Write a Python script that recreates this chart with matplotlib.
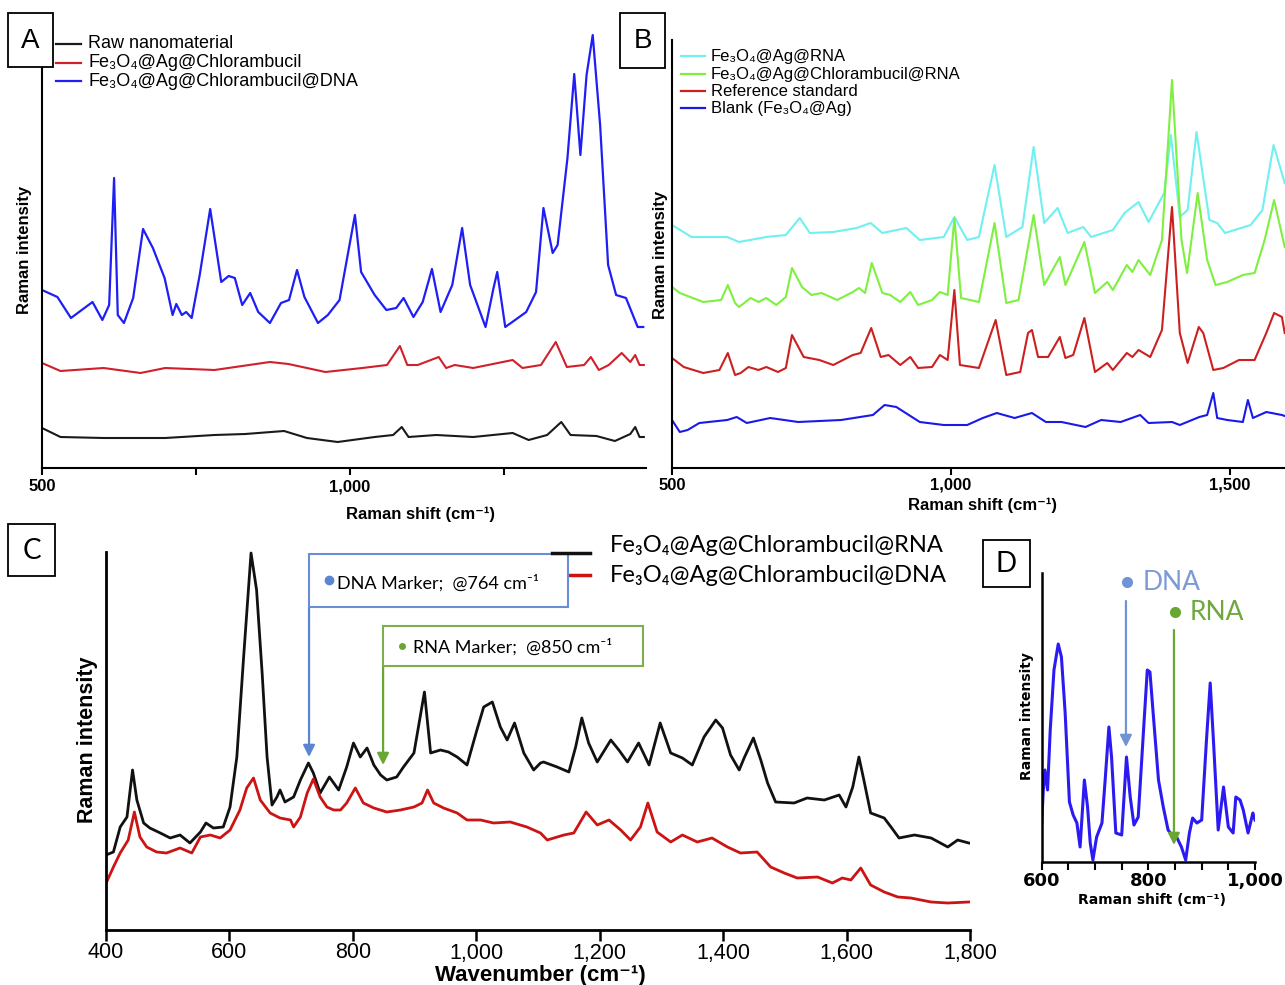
import matplotlib
matplotlib.use('Agg')
import matplotlib.pyplot as plt
from matplotlib.patches import Rectangle

# ---------------- data ----------------
# Panel A  (Raman shift, cm-1 ; intensity, a.u.)
a_raw_x = [500, 530, 600, 700, 780, 830, 893, 930, 980, 1040, 1070, 1084, 1095, 1140, 1200,
           1264, 1290, 1320, 1343, 1358, 1400, 1430, 1455, 1463, 1470, 1477]
a_raw_y = [40, 31, 30, 30, 33, 34, 37, 30, 26, 31, 33, 41, 31, 33, 31,
           35, 28, 33, 46, 33, 32, 27, 34, 41, 31, 31]
a_chl_x = [500, 530, 600, 660, 700, 780, 870, 900, 960, 1020, 1060, 1081, 1093, 1110, 1144,
           1156, 1170, 1200, 1264, 1280, 1310, 1334, 1352, 1380, 1391, 1404, 1420, 1441, 1455,
           1463, 1470, 1477]
a_chl_y = [105, 97, 100, 95, 100, 98, 106, 104, 96, 100, 103, 122, 103, 103, 111,
           100, 103, 100, 108, 100, 103, 126, 101, 103, 111, 98, 103, 115, 106,
           113, 103, 103]
a_dna_x = [500, 525, 547, 582, 598, 609, 617, 623, 633, 648, 664, 680, 699, 712, 718, 727,
           734, 743, 756, 773, 791, 803, 813, 825, 838, 851, 870, 888, 901, 914, 926, 948,
           964, 983, 1008, 1018, 1040, 1059, 1075, 1087, 1103, 1118, 1133, 1147, 1166, 1182,
           1195, 1220, 1233, 1239, 1252, 1268, 1286, 1302, 1314, 1329, 1337, 1353, 1364,
           1374, 1384, 1394, 1406, 1419, 1432, 1448, 1467, 1476]
a_dna_y = [178, 171, 150, 166, 148, 163, 290, 153, 145, 170, 239, 220, 190, 153, 164, 153,
           156, 150, 193, 259, 186, 192, 190, 163, 175, 156, 145, 165, 168, 198, 171, 145,
           153, 168, 253, 196, 173, 158, 160, 170, 151, 166, 199, 156, 183, 240,
           183, 141, 180, 196, 141, 148, 156, 176, 260, 215, 223, 310, 394,
           313, 393, 433, 343, 203, 173, 170, 141, 141]
a_labels = ['Raw nanomaterial', 'Fe\u2083O\u2084@Ag@Chlorambucil',
            'Fe\u2083O\u2084@Ag@Chlorambucil@DNA']
a_ticks = [500, 1000]
a_ticklabels = ['500', '1,000']

# Panel B
b_rna_x = [500, 535, 599, 620, 669, 704, 729, 747, 789, 831, 856, 877, 920, 944, 987, 1006,
           1029, 1050, 1078, 1099, 1128, 1148, 1167, 1191, 1209, 1237, 1251, 1290, 1311,
           1336, 1354, 1382, 1394, 1410, 1424, 1440, 1463, 1477, 1491, 1537, 1558, 1578, 1598]
b_rna_y = [243, 231, 231, 226, 231, 233, 250, 235, 236, 240, 245, 235, 240, 228, 231, 251,
           228, 231, 303, 231, 241, 321, 245, 260, 235, 241, 231, 238, 255,
           266, 246, 275, 333, 251, 258, 336, 248, 245, 235, 243, 258, 323, 285]
b_chl_x = [500, 514, 556, 588, 600, 613, 620, 641, 655, 669, 687, 704, 715, 733, 750, 768,
           796, 824, 835, 846, 858, 877, 891, 909, 927, 941, 966, 980, 994, 1006, 1018, 1050,
           1078, 1099, 1121, 1148, 1167, 1195, 1205, 1239, 1258, 1280, 1290, 1315, 1325, 1336,
           1357, 1378, 1396, 1413, 1423, 1442, 1459, 1474, 1495, 1523, 1544, 1562, 1579, 1598]
b_chl_y = [181, 175, 166, 168, 183, 165, 161, 170, 166, 170, 163, 171, 200, 181, 173, 175,
           168, 176, 180, 175, 205, 175, 173, 166, 176, 163, 168, 176, 173, 250, 170, 166,
           245, 165, 168, 253, 183, 211, 183, 226, 175, 186, 178, 203, 196, 208,
           193, 228, 388, 228, 195, 275, 208, 183, 186, 193, 195, 228, 268, 221]
b_ref_x = [500, 521, 556, 585, 600, 613, 623, 637, 655, 669, 690, 704, 715, 736, 764, 789,
           824, 838, 857, 874, 888, 909, 927, 941, 966, 980, 994, 1006, 1016, 1050, 1080, 1099,
           1124, 1138, 1145, 1156, 1174, 1195, 1205, 1219, 1239, 1258, 1280, 1290, 1315, 1325,
           1336, 1357, 1378, 1396, 1410, 1424, 1444, 1452, 1470, 1488, 1516, 1544, 1565, 1579,
           1593, 1598]
b_ref_y = [110, 101, 95, 98, 115, 93, 95, 101, 98, 101, 96, 100, 133, 111, 108, 103,
           113, 115, 140, 111, 113, 103, 111, 100, 101, 113, 108, 178, 103, 100, 148, 93,
           96, 135, 138, 111, 111, 131, 110, 113, 150, 96, 105, 98, 115, 111,
           118, 111, 138, 261, 135, 105, 141, 135, 98, 100, 108, 108, 135, 155,
           151, 135]
b_blank_x = [500, 514, 528, 549, 599, 616, 634, 676, 726, 803, 860, 881, 902, 916, 944, 987,
             1029, 1057, 1082, 1114, 1145, 1170, 1198, 1241, 1269, 1304, 1339, 1354, 1396,
             1410, 1445, 1459, 1470, 1477, 1495, 1523, 1532, 1541, 1565, 1593, 1598]
b_blank_y = [48, 36, 38, 45, 48, 51, 45, 50, 46, 48, 53, 63, 61, 56, 46, 43,
             43, 50, 55, 50, 55, 46, 46, 41, 48, 46, 53, 45, 46,
             43, 51, 53, 75, 50, 48, 46, 68, 50, 56, 53, 52]
b_labels = ['Fe\u2083O\u2084@Ag@RNA', 'Fe\u2083O\u2084@Ag@Chlorambucil@RNA',
            'Reference standard', 'Blank (Fe\u2083O\u2084@Ag)']
b_ticks = [500, 1000, 1500]
b_ticklabels = ['500', '1,000', '1,500']

# Panel C (wavenumber, cm-1)
c_rna_x = [400, 412, 423, 434, 443, 450, 461, 471, 488, 504, 520, 536, 553, 562, 574, 590,
           601, 612, 623, 635, 644, 653, 661, 669, 677, 682, 690, 704, 715, 728, 736, 747,
           762, 777, 790, 801, 812, 823, 834, 845, 855, 871, 882, 899, 916, 926, 942, 955,
           969, 985, 1001, 1012, 1026, 1039, 1050, 1062, 1077, 1093, 1104, 1109, 1131, 1150,
           1161, 1171, 1182, 1196, 1218, 1231, 1245, 1263, 1280, 1298, 1315, 1334, 1350, 1369,
           1388, 1399, 1412, 1426, 1434, 1449, 1461, 1472, 1485, 1515, 1536, 1564, 1588, 1599,
           1610, 1620, 1628, 1639, 1661, 1672, 1685, 1710, 1737, 1764, 1780, 1798]
c_rna_y = [75, 78, 103, 113, 160, 130, 107, 102, 97, 92, 95, 87, 98, 107, 102, 103,
           123, 173, 273, 377, 340, 257, 173, 125, 133, 140, 128, 133, 150, 167, 157, 137,
           153, 140, 163, 187, 173, 182, 165, 155, 150, 153, 163, 177, 238, 177, 180, 178,
           173, 165, 200, 223, 228, 203, 190, 207, 177, 160, 167, 168, 163, 158,
           183, 212, 187, 168, 190, 180, 168, 187, 165, 207, 177, 172, 165, 193,
           210, 202, 175, 160, 172, 192, 170, 147, 128, 127, 132, 130, 135, 123,
           143, 173, 150, 117, 112, 103, 92, 95, 92, 83, 90, 87]
c_dna_x = [401, 412, 423, 436, 446, 455, 466, 482, 498, 520, 539, 553, 569, 585, 601, 617,
           628, 639, 650, 666, 682, 699, 704, 715, 726, 736, 747, 758, 769, 780, 790, 804,
           817, 834, 855, 877, 899, 912, 921, 931, 947, 969, 985, 1007, 1028, 1055, 1082,
           1104, 1115, 1142, 1158, 1178, 1196, 1215, 1234, 1250, 1266, 1278, 1293, 1315, 1334,
           1358, 1382, 1407, 1428, 1455, 1477, 1499, 1520, 1553, 1577, 1593, 1607, 1623, 1639,
           1661, 1683, 1704, 1737, 1764, 1798]
c_dna_y = [48, 63, 77, 90, 118, 93, 83, 78, 77, 82, 77, 93, 95, 92, 100, 120,
           142, 152, 130, 117, 112, 110, 103, 113, 137, 151, 133, 123, 120, 120, 127, 142,
           127, 122, 118, 120, 123, 127, 140, 127, 122, 117, 110, 110, 107, 108, 103,
           97, 90, 95, 97, 118, 105, 110, 100, 90, 103, 127, 98, 88, 95,
           88, 92, 83, 77, 78, 63, 57, 52, 53, 47, 52, 50, 62, 45,
           38, 33, 32, 28, 27, 28]
c_labels = ['Fe\u2083O\u2084@Ag@Chlorambucil@RNA', 'Fe\u2083O\u2084@Ag@Chlorambucil@DNA']
c_ticks = [400, 600, 800, 1000, 1200, 1400, 1600, 1800]
c_ticklabels = ['400', '600', '800', '1,000', '1,200', '1,400', '1,600', '1,800']
c_markers = [729, 849]          # arrow positions (DNA, RNA)

# Panel D
d_x = [600, 603, 606, 611, 616, 623, 631, 637, 644, 652, 659, 666, 672, 680, 686, 691, 696,
       703, 713, 719, 726, 731, 739, 750, 759, 766, 773, 781, 791, 798, 803, 809, 819, 828,
       837, 844, 853, 862, 870, 877, 883, 891, 900, 909, 916, 922, 931, 941, 950, 959, 964,
       972, 978, 987, 996, 1000]
d_y = [39, 72, 92, 72, 132, 192, 218, 205, 149, 60, 47, 39, 15, 82, 55, 19, 2,
       25, 39, 82, 135, 105, 29, 27, 105, 65, 37, 45, 132, 192, 190, 149, 82, 55,
       32, 27, 25, 15, 2, 29, 44, 39, 42, 122, 179, 122, 32, 75, 35, 29, 65,
       62, 52, 29, 49, 42]
d_ticks = [600, 800, 1000]
d_ticklabels = ['600', '800', '1,000']
d_markers = [758, 848]

# ---------------- figure ----------------
W, H = 1285, 985
fig = plt.figure(figsize=(W / 100, H / 100), dpi=100)

ARIAL = ['Liberation Sans', 'DejaVu Sans']
CAL = ['Lato', 'DejaVu Sans']
VERD = ['DejaVu Sans']


def rect(l, t, r, b):
    return [l / W, 1 - b / H, (r - l) / W, (b - t) / H]


def style_axes(ax, lw):
    for s in ['top', 'right']:
        ax.spines[s].set_visible(False)
    for s in ['left', 'bottom']:
        ax.spines[s].set_linewidth(lw)
    ax.set_yticks([])
    ax.patch.set_alpha(0)


# Panel A
axA = fig.add_axes(rect(42, 30, 645.7, 468))
axA.plot(a_raw_x, a_raw_y, color='#1a1a1a', lw=1.5)
axA.plot(a_chl_x, a_chl_y, color='#d0202a', lw=1.5)
axA.plot(a_dna_x, a_dna_y, color='#1f1ff5', lw=1.6)
axA.set_xlim(500, 1480)
axA.set_ylim(0, 438)
style_axes(axA, 1.5)
axA.spines['left'].set_bounds(0, 401)
axA.set_xticks(a_ticks)
axA.set_xticklabels(a_ticklabels, fontfamily=ARIAL, fontweight='bold', fontsize=12)
axA.set_xticks([750, 1250], minor=True)
axA.tick_params(axis='x', which='both', direction='out', length=5, width=1.5, pad=3)
axA.set_ylabel('Raman intensity', fontfamily=ARIAL, fontweight='bold', fontsize=12, va='center')
axA.yaxis.set_label_coords((25 - 42) / 603.7, (468 - 250) / 438)
axA.set_xlabel('Raman shift (cm\u207b\u00b9)', fontfamily=ARIAL, fontweight='bold', fontsize=12,
               va='center')
axA.xaxis.set_label_coords((420 - 42) / 603.7, (468 - 514) / 438)

# Panel B
axB = fig.add_axes(rect(672, 30, 1285, 468))
axB.plot(b_rna_x, b_rna_y, color='#70f0f0', lw=1.5)
axB.plot(b_chl_x, b_chl_y, color='#7ef040', lw=1.5)
axB.plot(b_ref_x, b_ref_y, color='#cc2020', lw=1.5)
axB.plot(b_blank_x, b_blank_y, color='#1a1ae8', lw=1.5)
axB.set_xlim(500, 1598.5)
axB.set_ylim(0, 438)
style_axes(axB, 1.5)
axB.spines['left'].set_bounds(0, 428)
axB.set_xticks(b_ticks)
axB.set_xticklabels(b_ticklabels, fontfamily=ARIAL, fontweight='bold', fontsize=12)
axB.tick_params(axis='x', which='both', direction='out', length=5, width=1.5, pad=2)
axB.set_ylabel('Raman intensity', fontfamily=ARIAL, fontweight='bold', fontsize=12, va='center')
axB.yaxis.set_label_coords((660 - 672) / 613, (468 - 255) / 438)
axB.set_xlabel('Raman shift (cm\u207b\u00b9)', fontfamily=ARIAL, fontweight='bold', fontsize=12,
               va='center')
axB.xaxis.set_label_coords((983 - 672) / 613, (468 - 505) / 438)

# Panel C
axC = fig.add_axes(rect(106, 545, 970, 930))
axC.plot(c_rna_x, c_rna_y, color='#111111', lw=2.0)
axC.plot(c_dna_x, c_dna_y, color='#cc1414', lw=2.0)
axC.set_xlim(400, 1800)
axC.set_ylim(0, 385)
style_axes(axC, 2.0)
axC.spines['left'].set_bounds(0, 378)
axC.set_xticks(c_ticks)
axC.set_xticklabels(c_ticklabels, fontfamily=ARIAL, fontsize=15.5)
axC.tick_params(axis='x', direction='out', length=8, width=1.8, pad=1)
axC.set_ylabel('Raman intensity', fontfamily=ARIAL, fontweight='bold', fontsize=15.5, va='center')
axC.yaxis.set_label_coords((88 - 106) / 864, (930 - 740) / 385)
axC.set_xlabel('Wavenumber (cm\u207b\u00b9)', fontfamily=ARIAL, fontweight='bold', fontsize=16,
               va='baseline')
axC.xaxis.set_label_coords((540 - 106) / 864, (930 - 981) / 385)
axC.annotate('', xy=(c_markers[0], 173), xytext=(c_markers[0], 323),
             arrowprops=dict(arrowstyle='-|>,head_length=0.7,head_width=0.35', color='#5b85d0',
                             lw=1.6, shrinkA=0, shrinkB=0), annotation_clip=False)
axC.annotate('', xy=(c_markers[1], 165), xytext=(c_markers[1], 264),
             arrowprops=dict(arrowstyle='-|>,head_length=0.7,head_width=0.35', color='#6aa634',
                             lw=1.6, shrinkA=0, shrinkB=0), annotation_clip=False)

# Panel D
axD = fig.add_axes(rect(1041.7, 560, 1255, 862))
axD.plot(d_x, d_y, color='#2b1bf2', lw=2.2)
axD.set_xlim(600, 1000)
axD.set_ylim(0, 302)
style_axes(axD, 1.8)
axD.spines['left'].set_bounds(0, 289)
axD.set_xticks(d_ticks)
axD.set_xticklabels(d_ticklabels, fontfamily=VERD, fontweight='bold', fontsize=13)
axD.set_xticks([650, 700, 750, 850, 900, 950], minor=True)
axD.tick_params(axis='x', which='both', direction='out', length=6, width=1.5, pad=1)
axD.set_ylabel('Raman intensity', fontfamily=VERD, fontweight='bold', fontsize=10, va='center')
axD.yaxis.set_label_coords((1027 - 1041.7) / 213.3, (862 - 716) / 302)
axD.set_xlabel('Raman shift (cm\u207b\u00b9)', fontfamily=VERD, fontweight='bold', fontsize=10,
               va='center')
axD.xaxis.set_label_coords((1152 - 1041.7) / 213.3, (862 - 900) / 302)
axD.annotate('', xy=(d_markers[0], 115), xytext=(d_markers[0], 261),
             arrowprops=dict(arrowstyle='-|>,head_length=0.7,head_width=0.35', color='#6f93d3',
                             lw=1.6, shrinkA=0, shrinkB=0), annotation_clip=False)
axD.annotate('', xy=(d_markers[1], 17), xytext=(d_markers[1], 232),
             arrowprops=dict(arrowstyle='-|>,head_length=0.7,head_width=0.35', color='#6aa634',
                             lw=1.6, shrinkA=0, shrinkB=0), annotation_clip=False)

# ---------------- overlay: panel letters, legends, marker boxes ----------------
ov = fig.add_axes([0, 0, 1, 1])
ov.set_xlim(0, W)
ov.set_ylim(H, 0)
ov.axis('off')

for (l, t, r, b, letter, fam) in [(8, 13, 53, 67, 'A', ARIAL), (620, 13, 665, 68, 'B', ARIAL),
                                  (8, 524, 55, 576, 'C', CAL), (983, 540, 1030, 587, 'D', CAL)]:
    ov.add_patch(Rectangle((l, t), r - l, b - t, fc='white', ec='black', lw=1.3, zorder=5))
    ov.text((l + r) / 2, (t + b) / 2 + 1, letter, ha='center', va='center', fontsize=20,
            fontfamily=fam, zorder=6)

# legend A
for yy, col, lab in zip([44, 62.5, 81], ['#1a1a1a', '#d0202a', '#1f1ff5'], a_labels):
    ov.plot([56, 81], [yy, yy], color=col, lw=1.6)
    ov.text(88, yy, lab, ha='left', va='center', fontsize=13, fontfamily=ARIAL)

# legend B
for yy, col, lab in zip([56, 74, 91, 108], ['#70f0f0', '#7ef040', '#cc2020', '#1a1ae8'], b_labels):
    ov.plot([681, 705], [yy, yy], color=col, lw=1.6)
    ov.text(711, yy, lab, ha='left', va='center', fontsize=12, fontfamily=ARIAL)

# legend C
ov.plot([552, 590], [575, 575], color='#cc1414', lw=2.5, zorder=2)
ov.plot([552, 590], [553, 553], color='#111111', lw=2.5, zorder=4)
ov.text(610, 546, c_labels[0], ha='left', va='center', fontsize=17, fontfamily=CAL)
ov.text(610, 576, c_labels[1], ha='left', va='center', fontsize=17, fontfamily=CAL)

# marker boxes in C
ov.add_patch(Rectangle((309, 554), 259, 53, fc='white', ec='#6a8ed6', lw=1.5, zorder=3))
ov.plot([329], [580], 'o', ms=6, color='#5b85d0', zorder=4)
ov.text(337, 583, 'DNA Marker;  @764 cm\u207b\u00b9', ha='left', va='center', fontsize=13,
        fontfamily=CAL, zorder=4)
ov.add_patch(Rectangle((383, 626), 260, 40, fc='white', ec='#7db04d', lw=1.5, zorder=3))
ov.plot([402], [646], 'o', ms=4, color='#6aa634', zorder=4)
ov.text(413, 647, 'RNA Marker;  @850 cm\u207b\u00b9', ha='left', va='center', fontsize=13,
        fontfamily=CAL, zorder=4)

# marker labels in D
ov.plot([1127], [582], 'o', ms=7, color='#6f93d3')
ov.text(1143, 583, 'DNA', ha='left', va='center', fontsize=19, fontfamily=CAL, color='#7c9ad6')
ov.plot([1175], [612], 'o', ms=7, color='#6aa634')
ov.text(1190, 613, 'RNA', ha='left', va='center', fontsize=19, fontfamily=CAL, color='#6fa83f')

fig.savefig('out.png', dpi=100)
